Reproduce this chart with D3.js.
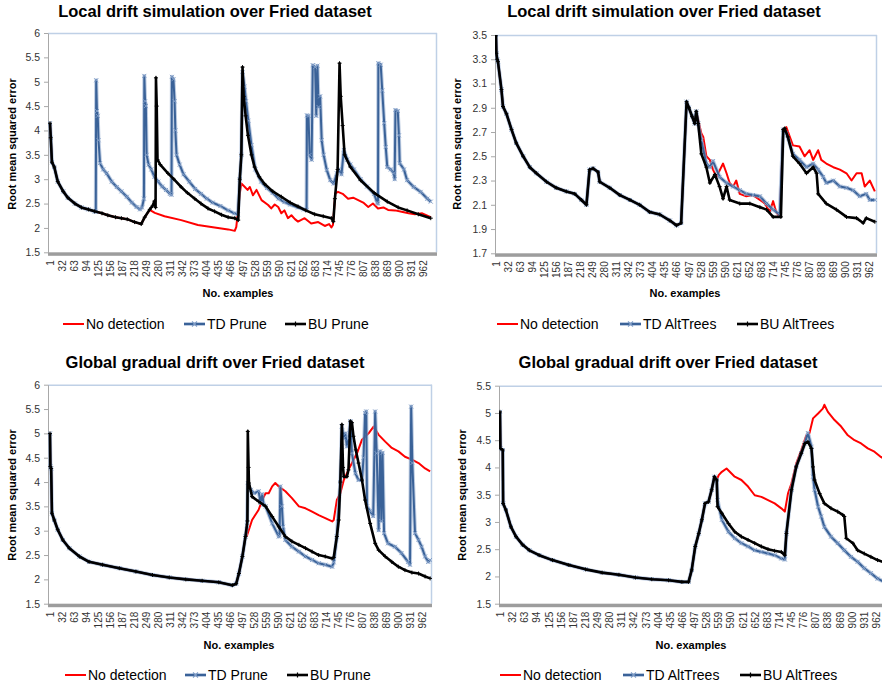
<!DOCTYPE html>
<html>
<head>
<meta charset="utf-8">
<script src="https://cdn.jsdelivr.net/npm/d3@7"></script>
<style>
body { margin: 0; background: #fff; }
svg { display: block; }
text { font-family: Arial, "Liberation Sans", sans-serif; }
</style>
</head>
<body>
<script>
// x tick labels (No. examples), shared by all four charts
var exampleTicks = [1, 32, 63, 94, 125, 156, 187, 218, 249, 280, 311, 342, 373, 404, 435, 466,
    497, 528, 559, 590, 621, 652, 683, 714, 745, 776, 807, 838, 869, 900, 931, 962];
var pruneYTicks = [1.5, 2, 2.5, 3, 3.5, 4, 4.5, 5, 5.5, 6];
var localAltYTicks = [1.7, 1.9, 2.1, 2.3, 2.5, 2.7, 2.9, 3.1, 3.3, 3.5];
var globalAltYTicks = [1.5, 2, 2.5, 3, 3.5, 4, 4.5, 5, 5.5];

var pruneNames = ['No detection', 'TD Prune', 'BU Prune'];
var altNames = ['No detection', 'TD AltTrees', 'BU AltTrees'];

// --- Local drift, Prune ([example, rmse]) ---
var localPruneStart = [[1,4.15],[3,3.85],[6,3.35],[12,3.25],[21,2.95],[35,2.75],[47,2.62],[65,2.5],[82,2.42],[100,2.38],[116,2.34]];
var localPruneNoDetection = localPruneStart.concat([[135,2.3],[150,2.26],[170,2.22],[185,2.2],[200,2.18],[219,2.12],[236,2.08],[245,2.22],[258,2.37],
    [271,2.31],[296,2.24],[339,2.16],[382,2.06],[425,2.01],[460,1.97],[477,1.94],[481,2.02],[490,2.71],[494,2.91],[503,2.84],[510,2.78],
    [516,2.84],[524,2.67],[533,2.78],[546,2.57],[563,2.47],[571,2.4],[580,2.48],[589,2.43],[597,2.3],[605,2.36],[614,2.2],[623,2.26],
    [632,2.18],[640,2.13],[657,2.2],[674,2.09],[692,2.12],[709,2.04],[720,2.08],[726,2.01],[730,2.06],[736,2.71],[743,2.74],[755,2.7],
    [769,2.6],[782,2.62],[795,2.57],[808,2.52],[821,2.43],[833,2.5],[846,2.4],[860,2.42],[872,2.37],[890,2.36],[907,2.33],[925,2.3],
    [941,2.28],[960,2.3],[982,2.22]]);
var localPruneTD = localPruneStart.concat([[119,2.33],[120,5.03],[122,4.4],[124,4.3],[126,3.8],[130,3.33],[138,3.2],[147,3.12],[160,2.95],
    [173,2.84],[185,2.75],[199,2.64],[212,2.52],[224,2.43],[233,2.38],[238,2.42],[243,2.6],[244,5.12],[246,4.6],[248,4.5],[250,3.5],
    [255,3.3],[262,3.2],[270,3.05],[280,2.95],[290,2.85],[300,2.78],[310,2.7],[314,2.68],[315,5.1],[319,5.05],[322,4.6],[324,4.0],
    [327,3.5],[335,3.3],[345,3.1],[360,2.95],[375,2.8],[390,2.7],[405,2.6],[420,2.52],[440,2.45],[460,2.36],[476,2.3],[485,2.28],
    [490,3.0],[494,3.5],[497,5.2],[502,4.9],[506,4.6],[512,4.2],[520,3.7],[530,3.2],[545,2.95],[560,2.82],[575,2.72],[590,2.6],
    [605,2.53],[620,2.48],[640,2.42],[655,2.38],[662,2.37],[663,4.31],[667,4.3],[670,3.5],[675,3.4],[678,5.34],[684,5.3],[687,4.3],
    [690,5.33],[693,4.48],[697,4.7],[701,3.8],[706,3.5],[714,3.19],[723,2.98],[732,2.91],[740,3.12],[745,3.2],[752,3.1],[758,3.6],
    [767,3.4],[775,3.3],[784,3.2],[801,3.0],[818,2.85],[836,2.7],[844,2.52],[846,2.5],[847,5.38],[853,5.35],[857,4.82],[862,4.15],
    [866,3.66],[870,3.25],[879,3.2],[887,3.12],[889,3.0],[891,4.42],[897,4.4],[900,3.9],[902,3.33],[913,3.2],[921,2.98],[938,2.84],
    [956,2.74],[973,2.6],[982,2.54]]);
var localPruneBU = localPruneStart.concat([[135,2.3],[150,2.26],[170,2.22],[185,2.2],[200,2.18],[219,2.12],[236,2.08],[245,2.22],[258,2.38],
    [265,2.45],[270,2.55],[273,2.42],[274,5.08],[276,4.5],[278,3.4],[285,3.3],[305,3.12],[320,3.0],[339,2.84],[355,2.72],[374,2.6],
    [390,2.5],[408,2.4],[425,2.34],[443,2.27],[460,2.22],[477,2.2],[486,2.16],[490,3.0],[494,3.5],[497,5.3],[500,4.7],[505,4.3],
    [511,3.9],[520,3.5],[528,3.25],[540,3.05],[554,2.9],[575,2.75],[597,2.64],[620,2.52],[640,2.44],[660,2.36],[683,2.28],[705,2.24],
    [726,2.2],[731,2.13],[735,2.6],[742,3.2],[747,5.38],[750,4.7],[755,4.1],[760,3.5],[775,3.25],[801,2.98],[836,2.72],[870,2.54],
    [898,2.42],[921,2.36],[950,2.28],[982,2.2]]);

// --- Local drift, AltTrees ---
var localAltStart = [[1,3.5],[2,3.35],[4,3.3],[6,3.28],[15,3.05],[19,2.91],[28,2.85],[41,2.72],[53,2.61],[71,2.5],[88,2.41],[105,2.36],
    [131,2.29],[156,2.24],[182,2.21],[204,2.19],[221,2.14],[234,2.1],[242,2.39],[251,2.4],[264,2.37],[268,2.29],[294,2.24],[320,2.18],
    [346,2.14],[371,2.1],[397,2.04],[423,2.02],[449,1.97],[466,1.93],[478,1.95],[492,2.95],[498,2.9],[506,2.83],[513,2.77]];
var localAltNoDetection = localAltStart.concat([[517,2.87],[522,2.8],[530,2.69],[535,2.66],[543,2.5],[552,2.47],[560,2.39],[569,2.33],
    [586,2.44],[595,2.36],[603,2.28],[612,2.25],[620,2.3],[629,2.19],[646,2.17],[663,2.18],[681,2.14],[694,2.11],[706,2.04],[715,2.13],
    [723,2.04],[732,2.0],[741,2.72],[749,2.74],[758,2.66],[766,2.59],[783,2.58],[796,2.5],[809,2.55],[818,2.47],[831,2.55],[839,2.47],
    [852,2.44],[870,2.41],[887,2.39],[904,2.36],[917,2.3],[930,2.36],[943,2.36],[951,2.25],[964,2.3],[977,2.21]]);
var localAltTD = localAltStart.concat([[517,2.87],[522,2.77],[530,2.63],[543,2.44],[552,2.41],[560,2.46],[577,2.33],[595,2.28],[612,2.25],
    [629,2.22],[646,2.19],[663,2.18],[681,2.17],[698,2.11],[715,2.06],[732,2.02],[741,2.72],[749,2.69],[766,2.52],[783,2.47],[801,2.41],
    [818,2.44],[831,2.39],[844,2.33],[852,2.28],[870,2.3],[887,2.25],[904,2.24],[921,2.22],[938,2.17],[955,2.19],[964,2.14],[977,2.14]]);
var localAltBU = localAltStart.concat([[517,2.87],[522,2.77],[530,2.52],[543,2.41],[552,2.28],[565,2.35],[577,2.25],[586,2.15],[595,2.25],
    [603,2.14],[629,2.11],[655,2.11],[681,2.08],[698,2.06],[715,2.0],[735,2.0],[741,2.72],[745,2.73],[753,2.66],[766,2.5],[783,2.44],
    [801,2.36],[818,2.41],[827,2.36],[831,2.19],[852,2.11],[878,2.06],[904,2.0],[930,1.99],[947,1.95],[955,1.99],[977,1.96]]);

// --- Global gradual drift, Prune ---
var globalPruneStart = [[1,5.0],[2,4.32],[4,4.28],[6,3.36],[12,3.22],[21,3.02],[34,2.81],[51,2.64],[77,2.47],[102,2.36],[137,2.3],
    [180,2.23],[223,2.16],[266,2.09],[309,2.04],[352,2.0],[394,1.97],[437,1.94],[472,1.88],[482,1.91],[489,2.12],[498,2.47],[506,2.88]];
var globalPruneNoDetection = globalPruneStart.concat([[510,2.9],[523,3.22],[540,3.43],[549,3.63],[558,3.77],[566,3.77],[575,3.91],
    [583,3.98],[592,3.91],[609,3.81],[626,3.67],[644,3.5],[661,3.46],[678,3.39],[695,3.32],[712,3.26],[730,3.19],[734,3.22],[742,3.63],
    [751,3.77],[760,4.04],[772,4.25],[781,4.39],[794,4.59],[807,4.87],[824,5.0],[837,5.14],[850,4.97],[867,4.83],[884,4.7],[901,4.63],
    [918,4.52],[936,4.46],[953,4.39],[970,4.28],[983,4.22]]);
var globalPruneTD = globalPruneStart.concat([[510,3.1],[512,3.98],[515,3.9],[520,3.84],[528,3.77],[540,3.81],[545,3.57],[549,3.75],
    [553,3.53],[558,3.5],[575,3.15],[592,2.88],[594,2.9],[596,3.91],[600,3.5],[603,3.08],[609,2.81],[626,2.67],[644,2.57],[661,2.47],
    [678,2.4],[695,2.33],[712,2.3],[730,2.26],[734,2.35],[742,2.88],[751,4.0],[755,5.14],[760,4.9],[764,5.0],[768,4.73],[773,4.9],
    [777,5.25],[781,4.59],[790,4.18],[798,4.04],[807,4.04],[811,4.5],[815,5.42],[818,5.45],[820,3.5],[828,3.4],[836,3.3],[841,5.45],
    [845,4.59],[850,3.01],[854,4.63],[857,3.2],[860,4.6],[864,2.95],[874,2.74],[892,2.67],[909,2.54],[926,2.36],[931,2.3],[934,5.55],
    [937,4.39],[944,2.95],[953,2.81],[961,2.67],[970,2.47],[978,2.36],[983,2.4]]);
var globalPruneBU = globalPruneStart.concat([[511,3.2],[512,5.04],[514,4.3],[515,3.98],[523,3.7],[540,3.6],[558,3.5],[575,3.29],
    [592,3.08],[609,2.88],[626,2.78],[644,2.71],[661,2.64],[678,2.57],[695,2.5],[712,2.47],[730,2.43],[734,2.45],[742,2.88],[747,3.22],
    [751,4.0],[755,5.18],[758,4.3],[760,4.11],[768,4.11],[772,4.25],[777,5.25],[781,5.22],[785,4.94],[791,4.66],[798,4.39],[807,4.04],
    [815,3.63],[828,3.15],[841,2.74],[850,2.6],[867,2.47],[884,2.36],[901,2.26],[918,2.19],[936,2.14],[953,2.12],[970,2.06],[983,2.02]]);

// --- Global gradual drift, AltTrees ---
var globalAltStart = [[1,5.02],[2,4.35],[8,4.32],[9,3.34],[16,3.22],[29,2.91],[42,2.73],[59,2.58],[76,2.48],[101,2.39],[135,2.3],
    [177,2.21],[220,2.13],[262,2.07],[305,2.03],[347,1.98],[389,1.95],[432,1.93],[466,1.9],[483,1.9],[491,2.12],[500,2.55],[509,2.79],
    [517,3.04],[525,3.34],[534,3.37],[542,3.59],[549,3.83],[555,3.77]];
var globalAltNoDetection = globalAltStart.concat([[560,3.86],[568,3.92],[580,3.98],[601,3.83],[618,3.77],[635,3.65],[652,3.49],
    [669,3.46],[686,3.4],[703,3.34],[720,3.25],[729,3.19],[737,3.52],[746,3.71],[758,4.07],[771,4.32],[784,4.59],[792,4.63],[801,4.9],
    [814,4.99],[826,5.08],[830,5.15],[839,5.02],[856,4.87],[873,4.75],[890,4.59],[907,4.5],[924,4.44],[941,4.35],[958,4.29],[973,4.2],
    [983,4.16]]);
var globalAltTD = globalAltStart.concat([[557,3.4],[568,3.04],[585,2.82],[601,2.7],[618,2.61],[635,2.55],[652,2.48],[669,2.45],
    [686,2.42],[703,2.39],[720,2.33],[729,2.31],[733,2.79],[746,3.59],[758,4.01],[771,4.26],[780,4.44],[788,4.63],[797,4.38],[801,3.83],
    [805,3.59],[814,3.28],[822,3.1],[830,2.91],[847,2.73],[864,2.61],[881,2.48],[898,2.36],[915,2.27],[932,2.15],[949,2.06],[966,1.96],
    [983,1.9]]);
var globalAltBU = globalAltStart.concat([[557,3.28],[568,3.16],[585,2.97],[601,2.82],[618,2.73],[635,2.67],[652,2.61],[669,2.55],
    [686,2.5],[703,2.47],[720,2.45],[729,2.39],[733,2.79],[746,3.59],[758,4.01],[771,4.26],[780,4.44],[788,4.47],[797,4.35],[801,4.01],
    [805,3.77],[818,3.52],[830,3.34],[847,3.25],[864,3.19],[877,3.13],[881,3.1],[886,2.7],[903,2.61],[915,2.48],[932,2.42],[949,2.36],
    [966,2.3],[983,2.26]]);

var seriesStyle = [
    { color: '#ff0000', width: 2, marker: null },
    { color: '#3a6298', width: 2, marker: 'x', halo: '#8fa9cd' },
    { color: '#000000', width: 2.6, marker: '+' }
];

var svg = d3.select('body').append('svg').attr('width', 882).attr('height', 686);

function markerPath(type, cx, cy, s) {
    if (type === 'x') return 'M' + (cx - s) + ',' + (cy - s) + 'L' + (cx + s) + ',' + (cy + s) +
        'M' + (cx - s) + ',' + (cy + s) + 'L' + (cx + s) + ',' + (cy - s);
    return 'M' + (cx - s) + ',' + cy + 'L' + (cx + s) + ',' + cy + 'M' + cx + ',' + (cy - s) + 'L' + cx + ',' + (cy + s);
}

function drawPanel(p, idx) {
    var g = svg.append('g');
    var x = d3.scaleLinear().domain([1, 962]).range([p.x1, p.x962]);
    var y = d3.scaleLinear().domain(p.yDomain).range([p.bottom, p.top]);

    g.append('text').attr('x', p.titleX).attr('y', p.titleY).attr('text-anchor', 'middle')
        .style('font-size', '16.5px').style('font-weight', 'bold').text(p.title);

    // frame: light blue top/right, grey left
    g.append('line').attr('x1', p.left).attr('x2', p.right).attr('y1', p.top + 0.5).attr('y2', p.top + 0.5)
        .attr('stroke', '#bfd0e6').attr('stroke-width', 1.5);
    g.append('line').attr('x1', p.right - 0.5).attr('x2', p.right - 0.5).attr('y1', p.top).attr('y2', p.bottom)
        .attr('stroke', '#bfd0e6').attr('stroke-width', 1.5);

    var yAxis = g.append('g').attr('transform', 'translate(' + p.left + ',0)')
        .call(d3.axisLeft(y).tickValues(p.yTicks).tickSize(4).tickSizeOuter(0).tickPadding(4).tickFormat(function (d) { return d; }));
    yAxis.select('.domain').attr('stroke', '#a8a8a8');
    yAxis.selectAll('.tick line').attr('stroke', '#a8a8a8');
    yAxis.selectAll('text').style('font-size', '10.5px').attr('fill', '#333');

    var xAxis = g.append('g').attr('transform', 'translate(0,' + p.bottom + ')')
        .call(d3.axisBottom(x).tickValues(exampleTicks).tickSize(0).tickFormat(function (d) { return d; }));
    xAxis.select('.domain').remove();
    xAxis.selectAll('text').attr('transform', 'rotate(-90)').attr('x', -8).attr('y', 0).attr('dy', '0.35em')
        .style('text-anchor', 'end').style('font-size', '10px').attr('fill', '#333');

    g.append('rect').attr('x', p.left).attr('y', p.bottom).attr('width', p.right - p.left).attr('height', 3.5)
        .attr('fill', '#9d9d9d');

    g.append('text').attr('transform', 'translate(' + p.yLabelX + ',' + p.yLabelY + ') rotate(-90)')
        .attr('text-anchor', 'middle').attr('dy', '0.35em')
        .style('font-size', '11px').style('font-weight', 'bold').text('Root mean squared error');
    g.append('text').attr('x', p.xLabelX).attr('y', p.xLabelY).attr('text-anchor', 'middle').attr('dy', '0.35em')
        .style('font-size', '11px').style('font-weight', 'bold').text('No. examples');

    var clipId = 'clip' + idx;
    g.append('clipPath').attr('id', clipId).append('rect')
        .attr('x', p.left).attr('y', p.top).attr('width', p.right - p.left).attr('height', p.bottom - p.top);
    var plot = g.append('g').attr('clip-path', 'url(#' + clipId + ')');

    var line = d3.line().x(function (d) { return x(d[0]); }).y(function (d) { return y(d[1]); });

    p.series.forEach(function (data, k) {
        var st = seriesStyle[k];
        if (st.halo) {
            plot.append('path').datum(data).attr('d', line).attr('fill', 'none')
                .attr('stroke', st.halo).attr('stroke-width', 4).attr('stroke-opacity', 0.6)
                .attr('stroke-linejoin', 'round');
        }
        plot.append('path').datum(data).attr('d', line).attr('fill', 'none')
            .attr('stroke', st.color).attr('stroke-width', st.width).attr('stroke-linejoin', 'round');
        if (st.marker) {
            plot.append('path')
                .attr('d', data.map(function (d) { return markerPath(st.marker, x(d[0]), y(d[1]), 2); }).join(''))
                .attr('stroke', st.marker === 'x' ? '#7f9cc6' : '#000').attr('stroke-width', 1).attr('fill', 'none');
        }
    });

    // legend
    p.names.forEach(function (name, k) {
        var st = seriesStyle[k];
        var lx = p.legendX[k];
        if (st.halo) {
            g.append('line').attr('x1', lx).attr('x2', lx + 21).attr('y1', p.legendY).attr('y2', p.legendY)
                .attr('stroke', st.halo).attr('stroke-width', 4).attr('stroke-opacity', 0.6);
        }
        g.append('line').attr('x1', lx).attr('x2', lx + 21).attr('y1', p.legendY).attr('y2', p.legendY)
            .attr('stroke', st.color).attr('stroke-width', st.width);
        if (st.marker) {
            g.append('path').attr('d', markerPath(st.marker, lx + 10.5, p.legendY, 2.5))
                .attr('stroke', st.marker === 'x' ? '#7f9cc6' : '#000').attr('stroke-width', 1.2);
        }
        g.append('text').attr('x', lx + 23).attr('y', p.legendY).attr('dy', '0.35em')
            .style('font-size', '14px').text(name);
    });
}

var panels = [
    { title: 'Local drift simulation over Fried dataset', titleX: 215, titleY: 17,
      left: 48, right: 437, top: 33, bottom: 252.3, x1: 50, x962: 423,
      yDomain: [1.5, 6], yTicks: pruneYTicks, yLabelX: 12, yLabelY: 144, xLabelX: 238, xLabelY: 293.5,
      series: [localPruneNoDetection, localPruneTD, localPruneBU], names: pruneNames,
      legendY: 324, legendX: [63, 184, 285] },
    { title: 'Local drift simulation over Fried dataset', titleX: 664, titleY: 17,
      left: 495, right: 877, top: 35, bottom: 253.3, x1: 496, x962: 869,
      yDomain: [1.7, 3.5], yTicks: localAltYTicks, yLabelX: 457, yLabelY: 144, xLabelX: 685, xLabelY: 293.5,
      series: [localAltNoDetection, localAltTD, localAltBU], names: altNames,
      legendY: 324, legendX: [497, 620, 737] },
    { title: 'Global gradual drift over Fried dataset', titleX: 215, titleY: 368,
      left: 48, right: 432, top: 384.7, bottom: 603.7, x1: 50, x962: 422,
      yDomain: [1.5, 6], yTicks: pruneYTicks, yLabelX: 12, yLabelY: 495, xLabelX: 239, xLabelY: 645,
      series: [globalPruneNoDetection, globalPruneTD, globalPruneBU], names: pruneNames,
      legendY: 675, legendX: [65, 185, 287] },
    { title: 'Global gradual drift over Fried dataset', titleX: 668, titleY: 368,
      left: 499, right: 900, top: 385.7, bottom: 603.7, x1: 500, x962: 876,
      yDomain: [1.5, 5.5], yTicks: globalAltYTicks, yLabelX: 462, yLabelY: 495, xLabelX: 691, xLabelY: 645,
      series: [globalAltNoDetection, globalAltTD, globalAltBU], names: altNames,
      legendY: 675, legendX: [500, 623, 740] }
];

panels.forEach(drawPanel);
</script>
</body>
</html>
